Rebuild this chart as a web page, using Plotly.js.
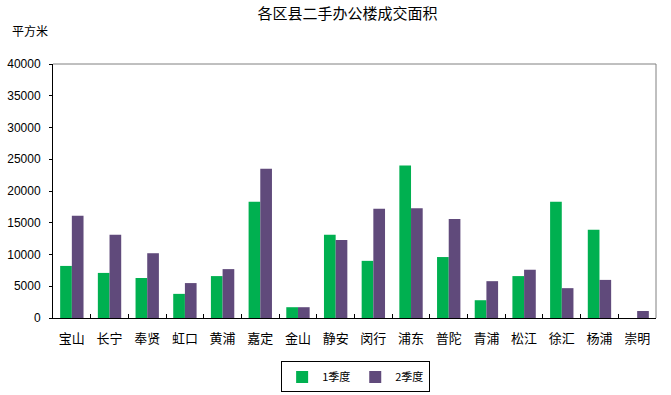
<!DOCTYPE html>
<html><head><meta charset="utf-8">
<script src="https://cdn.plot.ly/plotly-3.0.1.min.js"></script>
<style>html,body{margin:0;padding:0;background:#fff}#c{width:671px;height:395px}</style>
</head><body><div id="c"></div>
<script>
const districts = ["宝山","长宁","奉贤","虹口","黄浦","嘉定","金山","静安","闵行","浦东","普陀","青浦","松江","徐汇","杨浦","崇明"];
const q1 = [8200,7100,6300,3800,6600,18300,1700,13100,9000,24000,9600,2800,6600,18300,13900,0];
const q2 = [16100,13100,10200,5500,7700,23500,1700,12300,17200,17300,15600,5800,7600,4700,6000,1100];
const seriesNames = ["1季度","2季度"];
const yTicks = [0,5000,10000,15000,20000,25000,30000,35000,40000];

const cjk = '"Noto Sans CJK SC", sans-serif';
const traces = [
  {type:'bar', name:seriesNames[0], x:districts, y:q1, marker:{color:'#00B050'}},
  {type:'bar', name:seriesNames[1], x:districts, y:q2, marker:{color:'#604A7B'}}
];
const layout = {
  width:671, height:395,
  margin:{l:53, r:15, t:64, b:77, autoexpand:false},
  paper_bgcolor:'#fff', plot_bgcolor:'#fff',
  barmode:'group', bargap:0.38, bargroupgap:0,
  title:{text:'各区县二手办公楼成交面积', x:0.518, xanchor:'center', y:0.965, yanchor:'middle',
         font:{family:cjk, size:15, color:'#000'}},
  xaxis:{type:'category', showline:true, linecolor:'#000', linewidth:1,
         ticks:'inside', tickson:'boundaries', ticklen:4, tickcolor:'#000', ticklabelstandoff:8,
         tickfont:{family:cjk, size:13, color:'#000'}, showgrid:false, automargin:false},
  yaxis:{range:[0,40000], tickvals:yTicks, ticktext:yTicks.map(String),
         showline:true, linecolor:'#000', linewidth:1, ticks:'outside', ticklen:3, tickcolor:'#000',
         ticklabelstandoff:6,
         showgrid:false, zeroline:false, automargin:false,
         tickfont:{family:'"Liberation Sans", Arial, sans-serif', size:12, color:'#000'}},
  shapes:[
    {type:'line', xref:'paper', yref:'paper', x0:0, x1:1, y0:1, y1:1, line:{color:'#808080', width:1}},
    {type:'line', xref:'paper', yref:'paper', x0:1, x1:1, y0:0, y1:1, line:{color:'#808080', width:1}}
  ],
  annotations:[
    {text:'平方米', xref:'paper', yref:'paper', x:-0.072, y:1.13, xanchor:'left', yanchor:'middle',
     showarrow:false, font:{family:cjk, size:12, color:'#000'}}
  ],
  legend:{orientation:'h', xref:'container', yref:'container', x:0.53, xanchor:'center', y:0.085, yanchor:'top',
          bordercolor:'#000', borderwidth:1, font:{family:cjk, size:11, color:'#000'},
          itemwidth:30, traceorder:'normal'},
  showlegend:true
};
Plotly.newPlot('c', traces, layout, {displayModeBar:false, staticPlot:true});
</script></body></html>
